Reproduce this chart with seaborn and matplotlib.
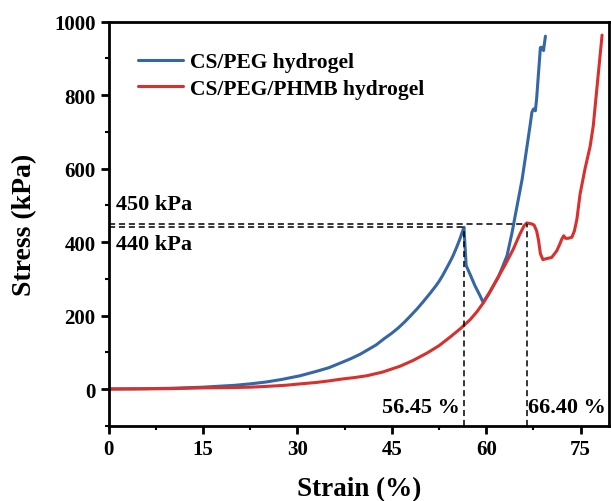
import matplotlib
matplotlib.use("Agg")
import matplotlib.pyplot as plt
import seaborn as sns
import pandas as pd
from matplotlib.ticker import MultipleLocator

# ---- data ----
blue_x = [0, 5, 10, 15, 20, 22.5, 25, 27.5, 30.4, 33, 35, 37, 38.4, 40, 41, 42.5, 43.7,
          45, 46, 47, 47.9, 49, 50, 51.1, 52, 52.5, 53.1, 53.7, 54.2, 54.7, 55.3, 55.8,
          56.2, 56.45, 56.8, 57.4, 58.2, 59.0, 59.5, 60.5, 61.2, 61.9, 62.6, 63.3, 64.1,
          64.6, 65.4, 65.7, 66.3, 67.0, 67.25, 67.5, 67.8, 68.0, 68.3, 68.6, 68.8,
          69.1, 69.2, 69.4]
blue_y = [0, 0.5, 2, 5, 10, 14, 19, 26, 36, 48, 58, 72, 82, 95, 105, 120, 136,
          152, 166, 182, 198, 218, 238, 261, 281, 293, 310, 329, 345, 362, 386, 408,
          428, 440, 336, 313, 281, 254, 236, 262, 283, 304, 333, 363, 426,
          472, 544, 571, 640, 722, 753, 762, 757, 790, 860, 929, 930,
          921, 935, 960]

red_x = [0, 10, 15, 20, 22.5, 25, 28, 30.5, 33.1, 35, 37, 39, 41, 43.5, 46.3, 48.4,
         50.6, 52.5, 54.3, 55.8, 57.4, 58.5, 59.6, 60.6, 61.7, 63, 64.3, 65.3, 66.0,
         66.45, 67.25, 67.6, 68.0, 68.3, 68.6, 69.0, 69.4, 70.4, 71.2, 71.7, 72.0,
         72.3, 72.6, 73.0, 73.6, 74.0, 74.4, 74.9, 75.7, 76.5, 77.0, 77.7, 78.4]
red_y = [0, 1, 3, 4, 5, 7, 10, 14, 18, 22, 27, 31, 36, 46, 62, 78,
         98, 118, 142, 163, 188, 210, 236, 265, 299, 338, 381, 420, 444,
         452, 449, 446, 430, 405, 368, 352, 354, 358, 376, 395, 408,
         417, 410, 410, 413, 430, 462, 530, 600, 660, 716, 840, 963]

series_names = ["CS/PEG hydrogel", "CS/PEG/PHMB hydrogel"]
peak_strain = [56.45, 66.40]
peak_stress = [440, 450]
x_ticks = [0, 15, 30, 45, 60, 75]
y_ticks = [0, 200, 400, 600, 800, 1000]

sns.set_style("ticks")
plt.rcParams['font.family'] = ['Liberation Serif', 'DejaVu Serif']
plt.rcParams['font.weight'] = 'bold'
plt.rcParams['axes.labelweight'] = 'bold'
for k in ['text.color', 'axes.labelcolor', 'xtick.color', 'ytick.color', 'axes.edgecolor']:
    plt.rcParams[k] = 'black'

df = pd.concat([
    pd.DataFrame({"x": blue_x, "y": blue_y, "s": series_names[0]}),
    pd.DataFrame({"x": red_x, "y": red_y, "s": series_names[1]}),
])

fig = plt.figure(figsize=(6.11, 5.02), dpi=100)
ax = fig.add_axes([108.7 / 611, 1 - 426.75 / 502, (609 - 108.7) / 611, (426.75 - 22.5) / 502])

sns.lineplot(data=df, x="x", y="y", hue="s", sort=False, estimator=None,
             palette=["#3566a8", "#d8302d"], linewidth=2.2, ax=ax)

# dashed guide lines
dash = (0, (4, 2.5))
ax.plot([0, peak_strain[1]], [peak_stress[1], peak_stress[1]], ls=dash, color="black", lw=1.1)
ax.plot([0, peak_strain[0]], [peak_stress[0], peak_stress[0]], ls=dash, color="black", lw=1.1)
ax.plot([peak_strain[0], peak_strain[0]], [-100, peak_stress[0]], ls=dash, color="black", lw=1.1)
ax.plot([peak_strain[1], peak_strain[1]], [-100, peak_stress[1]], ls=dash, color="black", lw=1.1)

ax.text(1.2, 503, "450 kPa", fontsize=16, fontweight="bold", va="center", ha="left")
ax.text(1.2, 395, "440 kPa", fontsize=16, fontweight="bold", va="center", ha="left")
ax.text(peak_strain[0] - 0.6, -50, "56.45 %", fontsize=16, fontweight="bold", va="center", ha="right")
ax.text(peak_strain[1] + 0.2, -50, "66.40 %", fontsize=16, fontweight="bold", va="center", ha="left")

ax.set_xlim(0, 79.5)
ax.set_ylim(-100, 1000)
ax.set_xticks(x_ticks)
ax.set_yticks(y_ticks)
ax.xaxis.set_minor_locator(MultipleLocator(7.5))
ax.yaxis.set_minor_locator(MultipleLocator(100))
ax.tick_params(which="major", direction="out", length=6, width=2, labelsize=15, colors="black")
ax.tick_params(which="minor", direction="out", length=3, width=1.5, colors="black")
for lab in ax.get_xticklabels() + ax.get_yticklabels():
    lab.set_fontweight("bold")
for sp in ax.spines.values():
    sp.set_linewidth(2)
    sp.set_color("black")

ax.set_xlabel("Strain (%)", fontsize=19.5, fontweight="bold", labelpad=12)
ax.set_ylabel("Stress (kPa)", fontsize=20, fontweight="bold", labelpad=12)

leg = ax.legend(loc="upper left", bbox_to_anchor=(0.041, 0.945), frameon=False,
                fontsize=15.5, handlelength=2.1, handletextpad=0.33, labelspacing=0.28,
                borderaxespad=0)
for t in leg.get_texts():
    t.set_fontweight("bold")
    t.set_color("black")

fig.savefig("out.png", dpi=100)
